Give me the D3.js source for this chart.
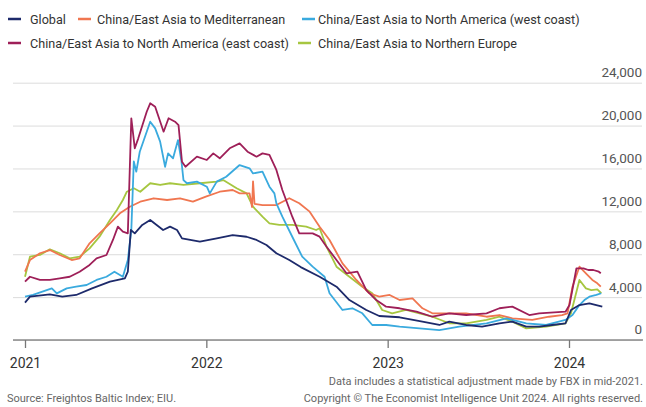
<!DOCTYPE html>
<html>
<head>
<meta charset="utf-8">
<script src="https://cdn.jsdelivr.net/npm/d3@7"></script>
<style>
  html, body { margin: 0; padding: 0; background: #fff; }
  svg { display: block; font-family: Roboto, "Noto Sans", sans-serif; }
</style>
</head>
<body>
<svg id="chart" width="646" height="407"></svg>
<script>
// ---------- DATA ----------
const seriesNames = [
  "Global",
  "China/East Asia to Mediterranean",
  "China/East Asia to North America (west coast)",
  "China/East Asia to North America (east coast)",
  "China/East Asia to Northern Europe"
];
const seriesColors = ["#1d2a6b", "#f07650", "#3aaade", "#9e1f58", "#a6c640"];

const yTicks = [0, 4000, 8000, 12000, 16000, 20000, 24000];
const yearTicks = ["2021-01-01", "2022-01-01", "2023-01-01", "2024-01-01"];

const globalData = [
["2021-01-01",3480],["2021-01-11",4040],["2021-02-20",4260],["2021-03-17",4040],["2021-04-14",4200],["2021-05-16",4820],["2021-06-21",5440],["2021-07-21",5750],["2021-07-27",6370],["2021-08-02",10260],["2021-08-10",9950],["2021-08-25",10730],["2021-09-10",11190],["2021-10-06",10260],["2021-10-20",10570],["2021-11-03",10260],["2021-11-13",9480],["2021-12-19",9170],["2022-01-22",9480],["2022-02-23",9790],["2022-03-23",9630],["2022-04-12",9330],["2022-05-02",8860],["2022-05-22",8090],["2022-06-17",7460],["2022-07-10",6800],["2022-08-17",5900],["2022-09-20",4970],["2022-10-16",3730],["2022-11-19",2800],["2022-12-15",2240],["2023-01-25",2120],["2023-03-12",1710],["2023-04-15",1400],["2023-05-05",1710],["2023-06-08",1400],["2023-07-10",1240],["2023-08-14",1560],["2023-09-09",1710],["2023-10-07",1240],["2023-11-02",1240],["2023-11-28",1400],["2023-12-25",1560],["2024-01-05",2800],["2024-01-22",3260],["2024-02-11",3420],["2024-03-08",3110]
];
const medData = [
["2021-01-01",6370],["2021-01-11",7460],["2021-01-31",8090],["2021-02-20",8390],["2021-03-12",7930],["2021-04-05",7460],["2021-04-21",7620],["2021-05-11",9020],["2021-05-31",9950],["2021-06-21",10880],["2021-07-11",11820],["2021-07-31",12430],["2021-08-21",12900],["2021-09-17",13220],["2021-10-14",13060],["2021-11-09",13220],["2021-12-05",12900],["2021-12-31",13370],["2022-01-28",13830],["2022-02-23",13990],["2022-03-09",13680],["2022-03-29",13680],["2022-04-03",12400],["2022-04-05",14800],["2022-04-08",12700],["2022-04-24",12590],["2022-05-22",12590],["2022-06-17",13220],["2022-07-07",12750],["2022-07-28",11970],["2022-08-17",10570],["2022-09-06",9330],["2022-10-02",7150],["2022-10-30",5600],["2022-11-25",4360],["2022-12-15",4040],["2023-01-05",4200],["2023-01-25",3730],["2023-02-20",3890],["2023-03-12",2960],["2023-04-01",2490],["2023-05-05",2490],["2023-06-08",2490],["2023-07-19",2170],["2023-08-14",2330],["2023-09-09",2020],["2023-10-19",1870],["2023-11-22",2170],["2023-12-18",2330],["2023-12-29",2490],["2024-01-08",4970],["2024-01-22",6840],["2024-02-04",6220],["2024-02-17",5600],["2024-02-27",5290],["2024-03-05",4970]
];
const westData = [
["2021-01-01",4040],["2021-01-17",4200],["2021-02-24",4820],["2021-03-06",4350],["2021-03-26",4820],["2021-04-14",4970],["2021-05-05",5130],["2021-05-25",5600],["2021-06-14",5900],["2021-06-30",6370],["2021-07-17",5900],["2021-07-27",7460],["2021-08-03",10260],["2021-08-08",16650],["2021-08-13",15700],["2021-08-20",17560],["2021-09-10",20360],["2021-09-20",19740],["2021-09-30",18500],["2021-10-10",16160],["2021-10-16",17410],["2021-10-26",16950],["2021-11-05",18650],["2021-11-12",16630],["2021-11-16",14920],["2021-11-23",14620],["2021-12-13",14770],["2022-01-02",14300],["2022-01-08",13680],["2022-01-22",14770],["2022-02-10",15230],["2022-03-09",16320],["2022-03-29",16010],["2022-04-05",15540],["2022-04-24",15700],["2022-05-08",14300],["2022-05-18",13680],["2022-05-22",12750],["2022-06-03",11500],["2022-06-23",9630],["2022-07-13",7770],["2022-08-03",6840],["2022-08-27",5900],["2022-09-06",4360],["2022-10-02",2800],["2022-10-22",2960],["2022-11-11",2490],["2022-12-01",1400],["2022-12-29",1400],["2023-01-25",1240],["2023-03-06",1090],["2023-04-15",930],["2023-05-25",1240],["2023-07-19",1560],["2023-08-28",2020],["2023-10-07",1560],["2023-11-16",1400],["2023-12-25",1870],["2024-01-08",2330],["2024-01-22",3260],["2024-02-01",3730],["2024-02-11",4040],["2024-02-25",4200],["2024-03-06",4360]
];
const eastData = [
["2021-01-01",5440],["2021-01-11",5900],["2021-01-31",5600],["2021-02-20",5600],["2021-03-12",5750],["2021-04-01",5900],["2021-04-21",6370],["2021-05-11",7000],["2021-05-25",7620],["2021-06-14",7930],["2021-06-27",9330],["2021-07-07",10570],["2021-07-17",10100],["2021-07-27",9950],["2021-08-03",20680],["2021-08-10",17880],["2021-08-17",18810],["2021-09-03",21290],["2021-09-10",22080],["2021-09-20",21760],["2021-10-07",19430],["2021-10-17",20680],["2021-10-30",20360],["2021-11-06",20050],["2021-11-13",16630],["2021-11-20",16160],["2021-12-13",17100],["2022-01-02",16790],["2022-01-15",17410],["2022-01-28",16950],["2022-02-17",17880],["2022-03-09",18340],["2022-03-25",17560],["2022-04-12",17100],["2022-04-24",17410],["2022-05-08",17260],["2022-05-22",15860],["2022-06-03",13990],["2022-06-23",11500],["2022-07-07",9950],["2022-08-03",9950],["2022-08-17",9640],["2022-08-31",8700],["2022-09-20",7460],["2022-10-10",6220],["2022-11-01",6370],["2022-11-19",4660],["2022-12-09",3730],["2022-12-29",3110],["2023-01-25",2960],["2023-02-28",2640],["2023-04-01",2170],["2023-05-05",2490],["2023-06-08",2330],["2023-07-19",2490],["2023-08-14",2960],["2023-09-09",3110],["2023-10-13",2330],["2023-11-02",2490],["2023-12-25",2640],["2024-01-02",3260],["2024-01-16",6690],["2024-01-30",6690],["2024-02-09",6530],["2024-02-19",6530],["2024-03-01",6370],["2024-03-05",6220]
];
const northEuropeData = [
["2021-01-01",5900],["2021-01-11",7770],["2021-01-31",7930],["2021-02-20",8460],["2021-03-12",8090],["2021-04-01",7620],["2021-04-21",7770],["2021-05-11",8550],["2021-05-31",9640],["2021-06-21",11190],["2021-07-05",12130],["2021-07-17",13060],["2021-07-25",13830],["2021-08-08",14150],["2021-08-21",13830],["2021-09-10",14620],["2021-09-30",14460],["2021-10-20",14620],["2021-11-16",14460],["2021-12-19",14620],["2022-01-22",14770],["2022-02-04",14920],["2022-03-03",14150],["2022-03-23",13680],["2022-04-05",12430],["2022-04-24",11500],["2022-05-08",10880],["2022-05-28",10730],["2022-06-23",10730],["2022-07-21",10570],["2022-08-10",10260],["2022-08-17",10420],["2022-08-31",8700],["2022-09-20",6840],["2022-10-16",5900],["2022-11-11",4970],["2022-12-01",4360],["2022-12-09",3730],["2022-12-21",2800],["2023-01-10",2490],["2023-02-07",2800],["2023-03-06",2490],["2023-04-01",2170],["2023-05-05",1560],["2023-06-08",1560],["2023-07-19",1870],["2023-08-14",2170],["2023-09-09",1710],["2023-10-07",1090],["2023-11-16",1240],["2023-12-25",1560],["2024-01-05",2490],["2024-01-22",5600],["2024-02-04",4820],["2024-02-15",4660],["2024-02-27",4730],["2024-03-06",4360]
];

const sourceText = "Source: Freightos Baltic Index; EIU.";
const noteText = "Data includes a statistical adjustment made by FBX in mid-2021.";
const copyrightText = "Copyright \u00A9 The Economist Intelligence Unit 2024. All rights reserved.";

// ---------- CHART ----------
const parse = d3.utcParse("%Y-%m-%d");
const allSeries = [globalData, medData, westData, eastData, northEuropeData]
  .map((arr, i) => ({ name: seriesNames[i], color: seriesColors[i],
                      values: arr.map(d => ({ date: parse(d[0]), value: d[1] })) }));

const svg = d3.select("#chart");
const plotLeft = 13, plotRight = 643;

const x = d3.scaleUtc()
  .domain([parse("2021-01-01"), parse("2024-01-01")])
  .range([25, 569]);
const y = d3.scaleLinear().domain([0, 24000]).range([340, 82.7]);

// Gridlines + y labels (right side, above lines)
const yAxis = d3.axisRight(y)
  .tickValues(yTicks)
  .tickSize(-(plotRight - 1 - plotLeft))
  .tickFormat(d3.format(","));
const gy = svg.append("g")
  .attr("transform", `translate(${plotRight - 1},0)`)
  .call(yAxis);
gy.select(".domain").remove();
gy.selectAll(".tick line").attr("stroke", "#dcdcdc").attr("stroke-width", 1);
gy.selectAll(".tick text")
  .attr("x", 0).attr("dy", "-0.45em")
  .attr("text-anchor", "end")
  .attr("fill", "#555")
  .style("font-size", "13.5px")
  .style("font-family", "Roboto, sans-serif");

// Lines
const line = d3.line().x(d => x(d.date)).y(d => y(d.value));
const drawOrder = [4, 1, 2, 3, 0];
svg.append("g").selectAll("path")
  .data(drawOrder.map(i => allSeries[i]))
  .join("path")
  .attr("d", d => line(d.values))
  .attr("fill", "none")
  .attr("stroke", d => d.color)
  .attr("stroke-width", 1.8)
  .attr("stroke-linejoin", "round");

// X axis baseline + ticks
svg.append("line")
  .attr("x1", plotLeft).attr("x2", plotRight)
  .attr("y1", y(0)).attr("y2", y(0))
  .attr("stroke", "#8a8a8a").attr("stroke-width", 1.6);

const xAxis = d3.axisBottom(x)
  .tickValues(yearTicks.map(parse))
  .tickSize(8)
  .tickPadding(10)
  .tickFormat(d3.utcFormat("%Y"));
const gx = svg.append("g")
  .attr("transform", `translate(0,${y(0)})`)
  .call(xAxis);
gx.select(".domain").remove();
gx.selectAll(".tick line").attr("stroke", "#777").attr("stroke-width", 1.3);
gx.selectAll(".tick text")
  .attr("fill", "#333")
  .style("font-size", "14px")
  .style("font-family", "Roboto, sans-serif");

// Legend: [swatch x, text x, row y]
const legendPos = [[8, 30, 19], [78, 97, 19], [302, 318, 19], [8, 30, 43], [298, 318, 43]];
const lg = svg.append("g").selectAll("g")
  .data(allSeries)
  .join("g");
lg.append("line")
  .attr("x1", (d, i) => legendPos[i][0]).attr("x2", (d, i) => legendPos[i][0] + 13)
  .attr("y1", (d, i) => legendPos[i][2]).attr("y2", (d, i) => legendPos[i][2])
  .attr("stroke", d => d.color).attr("stroke-width", 2.5);
lg.append("text")
  .attr("x", (d, i) => legendPos[i][1]).attr("y", (d, i) => legendPos[i][2])
  .attr("dy", "0.36em")
  .attr("fill", "#333")
  .style("font-size", "12.6px")
  .text(d => d.name);

// Footer
svg.append("text").attr("x", 7).attr("y", 402)
  .attr("fill", "#666").style("font-size", "11px").text(sourceText);
svg.append("text").attr("x", 643).attr("y", 385).attr("text-anchor", "end")
  .attr("fill", "#666").style("font-size", "11px").text(noteText);
svg.append("text").attr("x", 643).attr("y", 402).attr("text-anchor", "end")
  .attr("fill", "#666").style("font-size", "11px").text(copyrightText);
</script>
</body>
</html>
